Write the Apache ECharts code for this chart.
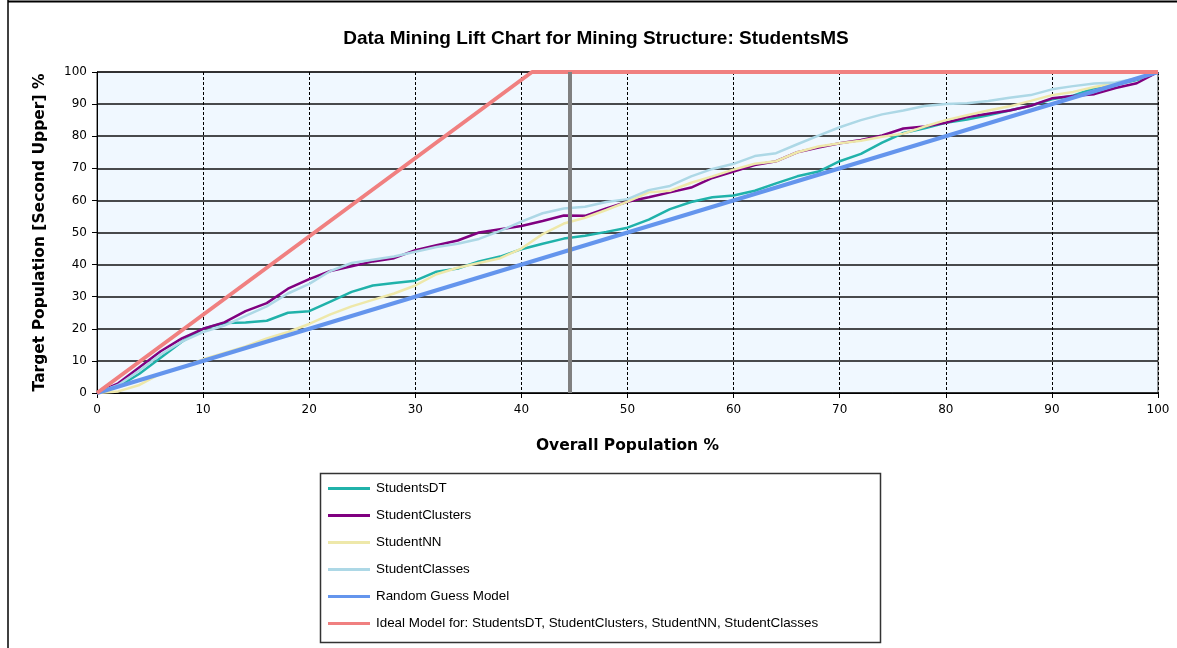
<!DOCTYPE html>
<html><head><meta charset="utf-8">
<script src="https://cdn.jsdelivr.net/npm/echarts@6/dist/echarts.min.js"></script>
<style>html,body{margin:0;padding:0;background:#fff}#c{width:1177px;height:648px}</style>
</head><body><div id="c"></div>
<script>
// Overall population % (x) sampled every 2 %
const overallPct = [0,2,4,6,8,10,12,14,16,18,20,22,24,26,28,30,32,34,36,38,40,42,44,46,48,50,52,54,56,58,60,62,64,66,68,70,72,74,76,78,80,82,84,86,88,90,92,94,96,98,100];
const studentsDT = [0,2,6,11,16,20,21.8,22,22.5,25,25.5,28.5,31.5,33.5,34.3,35,37.8,38.8,41,42.5,44.8,46.5,48.1,49,50.2,51.5,54,57.3,59.5,61,61.5,63,65.3,67.5,69,72.2,74.5,78,81,82.5,84.2,85.2,86.5,88,89.5,91.5,92.6,95,96,97.5,100];
const studentClusters = [0,3,8,13,17,20,22,25.5,28,32.5,35.5,38,39.5,41,42,44.5,46,47.5,50,51,52,53.6,55.3,55.2,57.5,59.6,61,62.5,64,67,69,71,72.2,75,76.5,77.8,78.8,80.2,82.4,83,84.2,86,87,88,89.5,91.8,92.5,93.1,95,96.5,100];
const studentNN = [0,0.5,2.5,6,8,10.5,12.5,14.5,17,19,21.5,24.5,27,29,31,33.5,37,39,40.5,42,45,49.5,52.8,54.6,57,59.6,62.5,63,65.5,67.5,69.6,71.4,72.2,75,76.8,77.8,78.6,79.8,80.8,83,85,86.5,88,89.3,91,92.8,93.8,95.3,96.5,97.8,100];
const studentClasses = [0,2.5,7,12,16,19,21,24,27,31,34,38,40.5,41.5,42.5,44,45.5,46.5,48,50.5,53.4,56,57.5,58,59.5,60.4,63.2,64.5,67.5,69.8,71.4,73.8,74.7,77.5,80.2,82.8,85,86.8,88,89.4,90,90.3,91,92,92.8,94.6,95.6,96.4,96.7,98,100];
const randomX = [0,100];
const randomY = [0,100];
const idealX = [0,41,100];
const idealY = [0,100,100];
const markerX = 44.6;

const seriesNames = ['StudentsDT','StudentClusters','StudentNN','StudentClasses','Random Guess Model','Ideal Model for: StudentsDT, StudentClusters, StudentNN, StudentClasses'];
const seriesColors = ['#20b2aa','#800080','#eee8aa','#add8e6','#6495ed','#f08080'];

function pairs(xs, ys){ return xs.map((x,i)=>[x, ys[i]]); }

const chart = echarts.init(document.getElementById('c'), null, {renderer:'canvas'});
const modelData = [studentsDT, studentClusters, studentNN, studentClasses];
const series = modelData.map((ys,i)=>({
  name: seriesNames[i], type:'line', data: pairs(overallPct, ys),
  symbol:'none', showSymbol:false, animation:false,
  lineStyle:{color:seriesColors[i], width:2.5}, itemStyle:{color:seriesColors[i]}
}));
series.push({
  name: seriesNames[4], type:'line', data: pairs(randomX, randomY), symbol:'none', animation:false,
  lineStyle:{color:seriesColors[4], width:4}, itemStyle:{color:seriesColors[4]}
});
series.push({
  name: seriesNames[5], type:'line', data: pairs(idealX, idealY), symbol:'none', animation:false,
  lineStyle:{color:seriesColors[5], width:4}, itemStyle:{color:seriesColors[5]},
  markLine:{silent:true, symbol:'none', animation:false, label:{show:false},
    lineStyle:{color:'#808080', width:4, type:'solid'}, data:[{xAxis:markerX}]}
});

chart.setOption({
  animation:false,
  backgroundColor:'#ffffff',
  title:{text:'Data Mining Lift Chart for Mining Structure: StudentsMS', left:591, top:24, textAlign:'center',
    textStyle:{fontFamily:'Liberation Sans', fontWeight:'bold', fontSize:19, color:'#000'}},
  grid:{left:97, right:19, top:72, bottom:255, show:true, backgroundColor:'#f0f8ff', borderColor:'#333', borderWidth:1},
  xAxis:{type:'value', min:0, max:100, interval:10,
    name:'Overall Population %', nameLocation:'middle', nameGap:45,
    nameTextStyle:{fontFamily:'DejaVu Sans', fontWeight:'bold', fontSize:15.5, color:'#000'},
    axisLine:{lineStyle:{color:'#000', width:1}},
    axisTick:{show:true, length:5, lineStyle:{color:'#000'}},
    axisLabel:{fontFamily:'DejaVu Sans', fontSize:12, color:'#000', margin:11},
    splitLine:{show:true, lineStyle:{color:'#000', width:1, type:[3,2]}}},
  yAxis:{type:'value', min:0, max:100, interval:10,
    name:'Target Population [Second Upper] %', nameLocation:'middle', nameGap:49,
    nameTextStyle:{fontFamily:'DejaVu Sans', fontWeight:'bold', fontSize:15.5, color:'#000'},
    axisLine:{show:true, lineStyle:{color:'#000', width:1}},
    axisTick:{show:true, length:5, lineStyle:{color:'#000'}},
    axisLabel:{fontFamily:'DejaVu Sans', fontSize:12, color:'#000', margin:10},
    splitLine:{show:true, lineStyle:{color:'#111', width:1.5, type:'solid'}}},
  legend:{orient:'vertical', left:323, top:476, icon:'rect', itemWidth:42, itemHeight:3, itemGap:12,
    padding:5,
    data:seriesNames, selectedMode:false,
    textStyle:{fontFamily:'Liberation Sans', fontSize:13.4, color:'#000', lineHeight:15, padding:[0,0,0,1]}},
  graphic:[
    {type:'rect', shape:{x:320.5, y:473.5, width:560, height:169}, style:{fill:'none', stroke:'#333', lineWidth:1.5}, silent:true},
    {type:'line', shape:{x1:8, y1:0, x2:8, y2:648}, style:{stroke:'#000', lineWidth:1.5}, silent:true},
    {type:'line', shape:{x1:8, y1:1.5, x2:1177, y2:1.5}, style:{stroke:'#000', lineWidth:2}, silent:true}
  ],
  series: series
});
</script></body></html>
